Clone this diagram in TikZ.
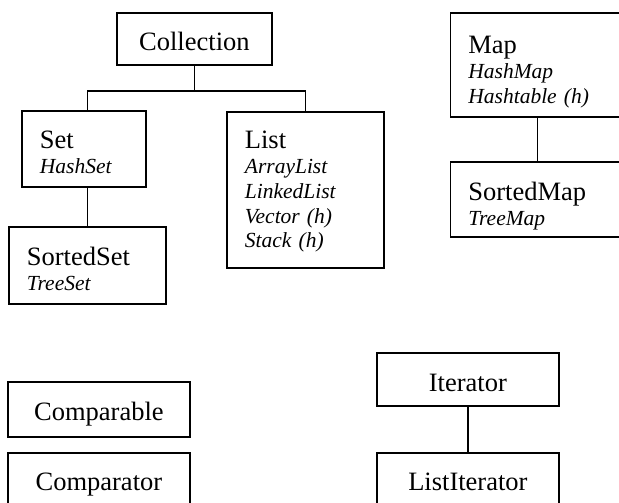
\documentclass[tikz,border=0pt]{standalone}
\usepackage{fontspec}
\setmainfont{Liberation Serif}
\newcommand{\cname}[1]{{\fontsize{26.5}{24.7}\selectfont #1}}
\newcommand{\impl}[1]{\textit{#1}}
\tikzset{
  box/.style={draw, line width=1.8pt, inner xsep=18pt, inner ysep=0pt, anchor=north west,
    align=left, font=\fontsize{21.5}{24.7}\selectfont},
  cbox/.style={draw, line width=1.8pt, inner xsep=0pt, inner ysep=0pt, anchor=north west,
    align=center, font=\fontsize{26.5}{30}\selectfont},
  link/.style={line width=1.8pt}
}
\begin{document}
\begin{tikzpicture}[x=1pt,y=-1pt]
\useasboundingbox (0,0) rectangle (619,503);
\clip (0,0) rectangle (619,503);
% collections
\node[cbox, text width=155pt, text height=38pt, text depth=14pt] (coll) at (116,12) {Collection};
\node[box, text width=88pt, text height=37.5pt, text depth=38.5pt] (set) at (21,110) {\cname{Set}\\ \impl{HashSet}};
\node[box, text width=121pt, text height=39pt, text depth=38pt] (sset) at (8,226) {\cname{SortedSet}\\ \impl{TreeSet}};
\node[box, text width=121pt, text height=37pt, text depth=119pt] (list) at (226,111) {\cname{List}\\ \impl{ArrayList}\\ \impl{LinkedList}\\ \impl{Vector (h)}\\ \impl{Stack (h)}};
\draw[link] (coll.south) -- ++(0,25) -| (sset.north |- set.north);
\draw[link] (coll.south) ++(0,25) -| (list.north);
\draw[link] (sset.north |- set.south) -- (sset.north);
% maps
\node[box, text width=138pt, text height=41pt, text depth=63pt] (map) at (449.5,12) {\cname{Map}\\ \impl{HashMap}\\ \impl{Hashtable (h)}};
\node[box, text width=138pt, text height=39pt, text depth=36pt] (smap) at (449.5,161) {\cname{SortedMap}\\ \impl{TreeMap}};
\draw[link] (map.south) -- (smap.north);
% ordering
\node[cbox, text width=182pt, text height=39pt, text depth=16pt] (cmpble) at (7,381) {Comparable};
\node[cbox, text width=182pt, text height=38pt, text depth=17pt] (cmptor) at (7,452) {Comparator};
% iterators
\node[cbox, text width=182pt, text height=39pt, text depth=14pt] (iter) at (376,352) {Iterator};
\node[cbox, text width=182pt, text height=38pt, text depth=17pt] (liter) at (376,452) {ListIterator};
\draw[link] (iter.south) -- (liter.north);
\end{tikzpicture}
\end{document}
